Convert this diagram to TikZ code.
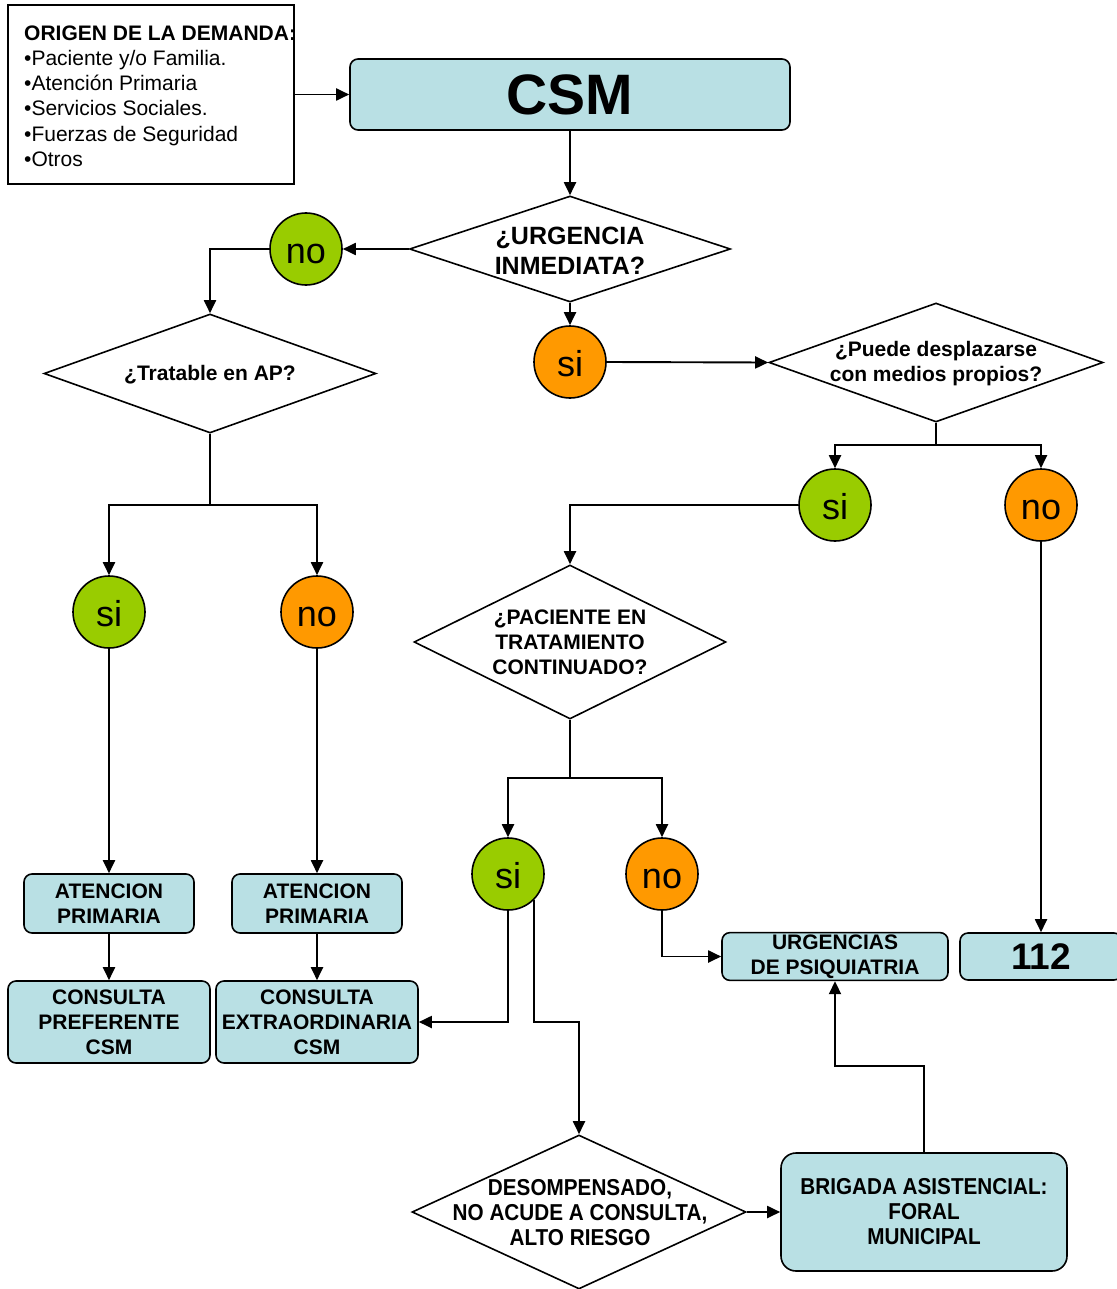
\documentclass[tikz,border=0pt]{standalone}
\usepackage{fontspec}
\setmainfont{Liberation Sans}
\newfontfamily\narrowsans[FakeStretch=0.9]{Liberation Sans}
\usetikzlibrary{shapes.geometric,arrows.meta,calc}
\definecolor{boxfill}{HTML}{B9E0E4}
\definecolor{yesgreen}{HTML}{99CC00}
\definecolor{noorange}{HTML}{FF9900}
\newcommand{\fsz}[2]{\fontsize{#1}{#2}\selectfont}
\begin{document}
\begin{tikzpicture}[x=1pt,y=-1pt,
  conn/.style={line width=1.9pt, draw=black},
  arr/.style={conn, -{Triangle[length=13pt,width=12pt]}},
  box/.style={draw=black, line width=1.6pt, fill=boxfill, rounded corners=8pt,
    align=center, inner sep=2pt, font=\bfseries\fsz{21}{25}},
  ball/.style={circle, draw=black, line width=1.6pt, minimum size=72pt, inner sep=0pt,
    text height=29pt, text depth=0pt, font=\fsz{36}{36}},
  yes/.style={ball, fill=yesgreen},
  nope/.style={ball, fill=noorange},
  decision/.style={diamond, draw=black, line width=1.6pt, inner sep=0pt, fill=white},
  dtext/.style={align=center, inner sep=0pt, font=\bfseries\fsz{21}{25}}
]
\useasboundingbox (0,0) rectangle (1116,1289);
\fill[white] (0,0) rectangle (1116,1289);

% source of the demand
\node[draw=black, line width=1.4pt, minimum width=286pt, minimum height=179pt, inner sep=0pt] (orig) at (151,94.5) {};
\node[anchor=north west, align=left, inner sep=0pt, font=\fsz{21}{25.2}] (origtxt) at (24,25.5)
  {\textbf{ORIGEN DE LA DEMANDA:}\\
   •Paciente y/o Familia.\\
   •Atención Primaria\\
   •Servicios Sociales.\\
   •Fuerzas de Seguridad\\
   •Otros};

% main centre
\node[box, minimum width=440pt, minimum height=71pt, font=\bfseries\fsz{57}{57}] (csm) at (570,94.5) {CSM};

% first decision
\node[decision, minimum width=321pt, minimum height=106pt] (urg) at (570,249) {};
\node[dtext, font=\bfseries\fsz{25}{30}] (urgtxt) at (570,251) {¿URGENCIA\\INMEDIATA?};
\node[yes] (no1) at (306,249) {no};
\node[nope] (si1) at (570,362) {si};

% left branch
\node[decision, minimum width=332pt, minimum height=119pt] (trat) at (210,373.5) {};
\node[dtext] (trattxt) at (210,375) {¿Tratable en AP?};
\node[yes] (si4) at (109,612) {si};
\node[nope] (no4) at (317,612) {no};
\node[box, minimum width=170pt, minimum height=59pt] (ap1) at (109,903.5) {ATENCION\\PRIMARIA};
\node[box, minimum width=170pt, minimum height=59pt] (ap2) at (317,903.5) {ATENCION\\PRIMARIA};
\node[box, minimum width=202pt, minimum height=82pt] (cp) at (109,1022) {CONSULTA\\PREFERENTE\\CSM};
\node[box, minimum width=202pt, minimum height=82pt] (cex) at (317,1022) {CONSULTA\\EXTRAORDINARIA\\CSM};

% right branch
\node[decision, minimum width=334pt, minimum height=119pt] (puede) at (936,362.5) {};
\node[dtext] (puedetxt) at (936,364) {¿Puede desplazarse\\con medios propios?};
\node[yes] (si2) at (835,505) {si};
\node[nope] (no2) at (1041,505) {no};
\node[box, minimum width=162pt, minimum height=47pt, font=\bfseries\fsz{37}{37}] (n112) at (1041,956.5) {112};

\node[decision, minimum width=312pt, minimum height=154pt] (pac) at (570,642) {};
\node[dtext] (pactxt) at (570,642) {¿PACIENTE EN\\TRATAMIENTO\\CONTINUADO?};
\node[yes] (si3) at (508,874) {si};
\node[nope] (no3) at (662,874) {no};
\node[box, minimum width=226pt, minimum height=47pt] (urgpsi) at (835,956.5) {URGENCIAS\\DE PSIQUIATRIA};

\node[decision, minimum width=334pt, minimum height=154pt] (desomp) at (579,1212) {};
\node[dtext, font=\narrowsans\bfseries\fsz{23}{25}] (desomptxt) at (580,1213)
  {DESOMPENSADO,\\NO ACUDE A CONSULTA,\\ALTO RIESGO};
\node[box, rounded corners=15pt, minimum width=286pt, minimum height=118pt,
  font=\narrowsans\bfseries\fsz{23}{25}] (brig) at (924,1212)
  {BRIGADA ASISTENCIAL:\\FORAL\\MUNICIPAL};

% connectors
\draw[arr] (orig.east) -- (csm.west);
\draw[arr] (csm.south) -- (urg.north);
\draw[arr] (urg.west) -- (no1.east);
\draw[arr] (no1.west) -| (trat.north);
\draw[arr] (urg.south) -- (si1.north);
\draw[arr] (si1.east) -- (puede.west);

\draw[conn] (trat.south) -- (210,505) coordinate (tsplit);
\draw[arr] (tsplit) -| (si4.north);
\draw[arr] (tsplit) -| (no4.north);
\draw[arr] (si4.south) -- (ap1.north);
\draw[arr] (no4.south) -- (ap2.north);
\draw[arr] (ap1.south) -- (cp.north);
\draw[arr] (ap2.south) -- (cex.north);

\draw[conn] (puede.south) -- (936,445) coordinate (psplit);
\draw[arr] (psplit) -| (si2.north);
\draw[arr] (psplit) -| (no2.north);
\draw[arr] (si2.west) -| (pac.north);
\draw[arr] (no2.south) -- (n112.north);

\draw[conn] (pac.south) -- (570,778) coordinate (csplit);
\draw[arr] (csplit) -| (si3.north);
\draw[arr] (csplit) -| (no3.north);
\draw[arr] (no3.south) |- (urgpsi.west);
\draw[arr] (si3.south) |- (cex.east);
\draw[arr] (si3.-45) |- (desomp.north |- cex.east) -- (desomp.north);
\draw[arr] (desomp.east) -- (brig.west);
\draw[arr] (brig.north) -- ++(0,-86) -| (urgpsi.south);
\end{tikzpicture}
\end{document}
